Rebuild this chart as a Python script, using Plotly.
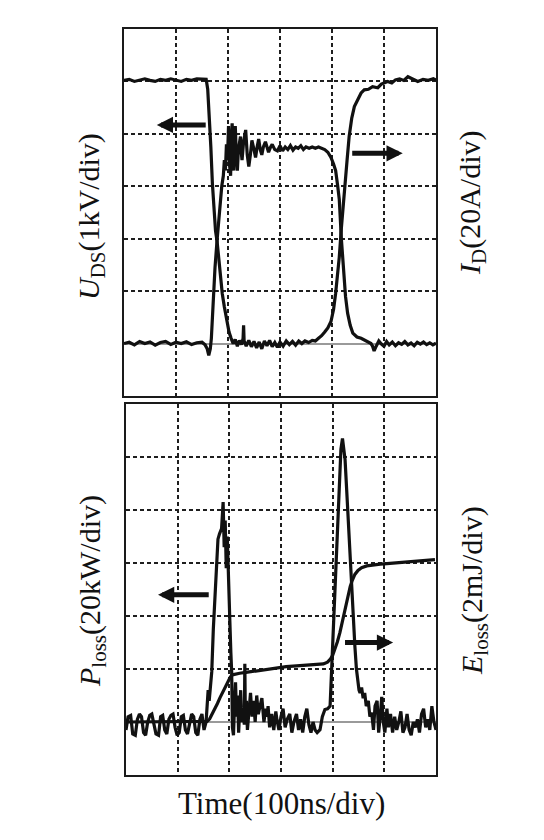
import plotly.graph_objects as go

# ---------------- data ----------------
# time axis: 100 ns/div, 6 divisions
time_range_ns = [0, 600]

# U_DS (kV), 1 kV/div
t_uds = [0, 10, 20, 30, 40, 50, 60, 70, 80, 90, 100, 110, 120, 130, 140, 150, 158,
         161, 164, 167, 170, 173, 176, 179, 182, 185, 189, 193, 198, 202, 206, 210,
         214, 218, 222, 226, 229, 230, 231, 235, 240, 245, 250, 255, 260, 265, 270,
         275, 280, 285, 290, 295, 300, 306, 312, 318, 324, 330, 336, 342, 348, 355,
         362, 368, 374, 380, 386, 392, 398, 403, 407, 411, 414, 418, 421, 425, 429,
         433, 438, 443, 450, 456, 462, 470, 478, 488, 495, 500, 507, 515, 522, 530,
         538, 546, 555, 565, 575, 585, 595, 600]
u_ds = [5.02, 5.04, 5.0, 5.03, 5.05, 5.02, 5.0, 5.04, 5.02, 5.05, 5.03, 5.0, 5.04, 5.02, 5.05, 5.04, 5.04,
        4.85, 4.4, 3.75, 3.05, 2.55, 2.15, 1.95, 1.6, 1.3, 0.95, 0.7, 0.42, 0.22, 0.1, 0.0,
        0.08, -0.05, 0.06, -0.02, 0.1, 0.35, 0.05, -0.05, 0.06, -0.06, 0.04, -0.08, 0.03, -0.1, 0.05,
        -0.04, 0.06, -0.06, 0.02, -0.07, 0.03, -0.05, 0.05, -0.02, 0.04, -0.03, 0.05, 0.0, 0.05, 0.02,
        0.06, 0.05, 0.1, 0.15, 0.22, 0.3, 0.42, 0.65, 0.96, 1.35, 1.65, 2.2, 2.6, 3.0, 3.5,
        3.95, 4.3, 4.52, 4.68, 4.78, 4.84, 4.85, 4.9, 4.88, 4.95, 4.97, 5.0, 4.97, 5.03, 5.05,
        5.02, 5.09, 5.05, 5.0, 5.04, 5.02, 5.05, 5.03]

# I_D (A), 20 A/div
t_id = [0, 10, 20, 30, 40, 50, 60, 70, 80, 90, 100, 110, 120, 130, 140, 150, 156, 160, 163,
        166, 168, 170, 172, 175, 179, 182, 185, 188, 191, 193, 195, 197, 199, 201, 203, 205,
        207, 208, 210, 211, 213, 214, 216, 218, 220, 222, 224, 226, 227, 230, 234, 237, 240,
        243, 246, 250, 253, 256, 259, 262, 265, 268, 272, 275, 278, 282, 285, 290, 295, 300,
        305, 310, 315, 320, 325, 330, 335, 340, 345, 350, 356, 362, 368, 374, 380, 386, 392,
        398, 403, 407, 411, 414, 418, 421, 423, 426, 430, 435, 440, 448, 456, 465, 475, 478,
        481, 485, 490, 494, 500, 505, 510, 516, 522, 528, 534, 540, 546, 552, 558, 564, 570,
        576, 582, 588, 594, 600]
i_d = [0, 0.5, -0.5, 0.8, 0, 0.6, -0.6, 0.4, 0.8, -0.3, 0.5, 0, 0.7, -0.4, 0.3, 0.5, -0.5, -2, -4.5,
       -2, 2, 10, 19, 29, 39.5, 47, 55, 60, 64, 70, 66, 76, 70, 83, 68, 64,
       80, 84, 70, 66, 80, 83, 72, 66, 74, 78, 79, 72, 70, 77, 81.5, 72, 67.5,
       72, 77.5, 74, 71, 75, 78, 74, 72, 75, 77, 75, 73, 75, 76, 74, 73.5, 75.5,
       73.5, 75, 74, 75.5, 73.8, 75, 74.5, 75.5, 74, 75, 74.5, 75, 74.5, 75, 74.5, 74, 73,
       71, 68.5, 66, 60, 55, 40, 31, 25.5, 18, 11.6, 7, 4, 2.5, 2, 1.2, 0, -1,
       -2.8, -1, 1, 0, -1, 0.8, -0.5, 0.6, -0.8, 0.3, -0.3, 0.8, -0.5, 0.2, -0.8, 0.5, -0.2,
       0.6, -0.4, 0.3, -0.5, 0.2]

# P_loss (kW), 20 kW/div
t_p = [0, 4, 9, 13, 18, 22, 26, 30, 34, 38, 42, 46, 50, 54, 58, 63, 67, 71, 75, 79, 83, 87,
       91, 95, 99, 103, 107, 111, 115, 119, 123, 127, 131, 135, 139, 143, 147, 151, 155, 157,
       159, 161, 163, 166, 169, 172, 175.5, 178, 181, 185, 188, 190, 192, 194, 196, 198, 201,
       203, 204.5, 206, 208, 210, 212, 214, 216, 218, 220, 222, 224, 226, 229, 230, 231, 233,
       235, 238, 241, 244, 247, 250, 253, 256, 260, 263, 267, 270, 273, 275, 278, 282, 286,
       290, 292, 296, 300, 304, 308, 312, 317, 321, 325, 330, 334, 338, 342, 346, 350, 354,
       358, 362, 366, 370, 375.5, 380, 385, 390, 395, 398, 401, 404.5, 408, 411, 414, 416,
       419, 421, 424, 427, 430, 434, 437, 440, 443, 446, 448, 451, 453, 456, 459, 462, 465,
       469, 472, 475.5, 479, 482, 486, 489, 492, 495, 498, 501, 505, 508, 512, 516, 520, 524,
       528, 532, 536, 540, 544, 548, 552, 556, 560, 564, 568, 572, 576, 580, 584, 588, 592,
       596, 600]
p_loss = [-3, 2, 2.5, -4.5, -5, 1, 3, 2, -4, -5, 0, 2.5, 3, -1, -4.5, -5, 2, 2.5, -3, -4.5, 1, 2.5,
          3, -2, -5, -4, 2, 2.5, -3, -4.5, 0, 3, 2, -4, -5, 1, 3, -3, 0, 9,
          12, 8, 14, 19, 35, 48, 63, 69, 71, 73, 83, 66, 76, 58, 70, 52, 38,
          26, 19, -2, -5, 6, 15, 2, 10, -4, 5, 12, 0, 4, -1, 22, 2, 8,
          -3, 6, 11, 2, 8, 0, 10, 3, 6, 9, 0, 5, 2, 6, -2, 3, -3,
          4, 1, -3, 2, 5, -2, 1, 3, -4, 0, 3, -3, 1, -4, 2, 5, -1,
          -4, 0, -3, -4, -2.9, 2, 4.7, 5, 6, 19.8, 35, 51, 68, 83, 96, 103,
          107, 104, 99, 88, 76, 64, 54, 40, 28.6, 20, 16, 12, 11, 13, 9, 11, 6,
          8, 2, 3.5, -3, 6, 8, -4, 2, 9.5, 0, -4, 5, -2, 3, -4, 2, -3,
          0, 4, -4, -2, 3, -3, -5, 0, -2, 1, -4, 3, 5, -2, 1, -3, 6,
          0, -3]

# E_loss (mJ), 2 mJ/div
t_e = [0, 50, 100, 150, 157, 162, 167, 172, 177, 182, 187, 192, 197, 202, 206, 212, 220, 232,
       250, 270, 290, 310, 330, 350, 370, 382, 390, 395, 400, 404.5, 409, 414, 419, 424, 429,
       434, 438, 443, 449, 456, 466, 479, 492, 505, 520, 540, 560, 580, 598]
e_loss = [0, 0, 0, 0, 0.02, 0.12, 0.3, 0.5, 0.7, 0.92, 1.13, 1.33, 1.52, 1.7, 1.78, 1.81, 1.84, 1.87,
          1.92, 1.98, 2.04, 2.09, 2.12, 2.15, 2.17, 2.19, 2.26, 2.36, 2.52, 2.74, 3.02, 3.37, 3.8, 4.25, 4.72,
          5.12, 5.35, 5.57, 5.72, 5.82, 5.89, 5.94, 5.96, 5.98, 6.0, 6.03, 6.07, 6.1, 6.13]

# axis ranges (7 vertical divisions, zero one division above the bottom)
uds_range = [-1, 6]
id_range = [-20, 120]
p_range = [-20, 120]
e_range = [-2, 12]

label_font = "Liberation Serif, Times New Roman, serif"
W, H = 544, 840

fig = go.Figure()
line_style = dict(color="#111111", width=3.2)
fig.add_trace(go.Scatter(x=t_uds, y=u_ds, mode="lines", line=line_style, xaxis="x", yaxis="y"))
fig.add_trace(go.Scatter(x=t_id, y=i_d, mode="lines", line=line_style, xaxis="x", yaxis="y2"))
fig.add_trace(go.Scatter(x=t_p, y=p_loss, mode="lines", line=line_style, xaxis="x2", yaxis="y3"))
fig.add_trace(go.Scatter(x=t_e, y=e_loss, mode="lines", line=line_style, xaxis="x2", yaxis="y4"))

grid_common = dict(showgrid=True, gridcolor="#1e1e1e", gridwidth=1.8, griddash="4px,3px",
                   showticklabels=False, ticks="", showline=True, linecolor="#1a1a1a",
                   linewidth=2.2, mirror=True)

top_dom = [1 - 396 / H, 1 - 29 / H]
bot_dom = [1 - 775 / H, 1 - 404 / H]

fig.update_layout(
    width=W, height=H, showlegend=False,
    paper_bgcolor="white", plot_bgcolor="white",
    margin=dict(l=0, r=0, t=0, b=0),
    xaxis=dict(domain=[124 / W, 436 / W], anchor="y", range=time_range_ns, dtick=100,
               zeroline=False, **grid_common),
    yaxis=dict(domain=top_dom, anchor="x", range=uds_range, dtick=1,
               zeroline=True, zerolinecolor="#9a9a9a", zerolinewidth=2, **grid_common),
    yaxis2=dict(overlaying="y", side="right", anchor="x", range=id_range,
                showgrid=False, zeroline=False, showticklabels=False, ticks="", showline=False),
    xaxis2=dict(domain=[126 / W, 436 / W], anchor="y3", range=time_range_ns, dtick=100,
                zeroline=False, **grid_common),
    yaxis3=dict(domain=bot_dom, anchor="x2", range=p_range, dtick=20,
                zeroline=True, zerolinecolor="#9a9a9a", zerolinewidth=2, **grid_common),
    yaxis4=dict(overlaying="y3", side="right", anchor="x2", range=e_range,
                showgrid=False, zeroline=False, showticklabels=False, ticks="", showline=False),
)

arrow = dict(showarrow=True, text="", arrowhead=2, arrowsize=0.65, arrowwidth=5,
             arrowcolor="#111111")
# direction arrows (head -> tail)
fig.add_annotation(x=63, y=4.17, ax=160, ay=4.17, xref="x", yref="y", axref="x", ayref="y", **arrow)
fig.add_annotation(x=536, y=3.63, ax=436, ay=3.63, xref="x", yref="y", axref="x", ayref="y", **arrow)
fig.add_annotation(x=62, y=48, ax=163, ay=48, xref="x2", yref="y3", axref="x2", ayref="y3", **arrow)
fig.add_annotation(x=517, y=30, ax=421, ay=30, xref="x2", yref="y3", axref="x2", ayref="y3", **arrow)

lab = dict(showarrow=False, xref="paper", yref="paper", textangle=-90,
           xanchor="center", yanchor="middle",
           font=dict(family=label_font, size=30, color="#111111"))
fig.add_annotation(text="<i>U</i><sub>DS</sub>(1kV/div)", x=91 / W, y=1 - 217 / H, **lab)
fig.add_annotation(text="<i>I</i><sub>D</sub>(20A/div)", x=472 / W, y=1 - 203 / H, **lab)
fig.add_annotation(text="<i>P</i><sub>loss</sub>(20kW/div)", x=92 / W, y=1 - 591 / H, **lab)
fig.add_annotation(text="<i>E</i><sub>loss</sub>(2mJ/div)", x=474 / W, y=1 - 591 / H, **lab)
fig.add_annotation(text="Time(100ns/div)", x=281 / W, y=1 - 803 / H, showarrow=False,
                   xref="paper", yref="paper", xanchor="center", yanchor="middle",
                   font=dict(family=label_font, size=31, color="#111111"))

fig.write_html("out.html", config={"displayModeBar": False},
               post_script="document.body.style.margin='0';")
